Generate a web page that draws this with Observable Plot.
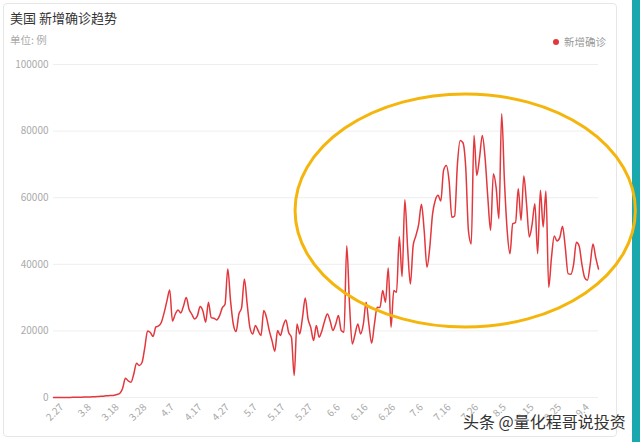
<!DOCTYPE html>
<html><head><meta charset="utf-8">
<script src="https://cdn.jsdelivr.net/npm/d3@7"></script>
<script src="https://cdn.jsdelivr.net/npm/@observablehq/plot@0.6"></script>
<style>
body{margin:0;background:#fff;font-family:"Noto Sans CJK SC","Noto Sans",sans-serif;}
#wrap{position:relative;width:640px;height:442px;overflow:hidden;background:#fff;}
.card{position:absolute;left:3px;top:3px;width:612px;height:432px;border:1px solid #e6e6e6;border-radius:4px;}
.teal{position:absolute;left:632px;top:0;width:8px;height:442px;background:#18a8ae;}
.title{position:absolute;left:10px;top:8px;font-size:13px;color:#333;white-space:nowrap;}
.sub{position:absolute;left:10px;top:32px;font-size:10.5px;color:#aaa;white-space:nowrap;}
.legend{position:absolute;left:553px;top:34px;font-size:10.5px;color:#999;white-space:nowrap;display:flex;align-items:center;}
.legend i{display:inline-block;width:6px;height:6px;border-radius:50%;background:#e2373c;margin-right:5px;}
#chart{position:absolute;left:0;top:50px;}
.wm{position:absolute;left:463px;top:409px;font-size:16px;color:#333;white-space:nowrap;
  text-shadow:0 0 2px #fff,0 0 2px #fff,0 0 3px #fff;}
</style>
</head><body>
<div id="wrap">
  <div class="card"></div>
  <div class="teal"></div>
  <div class="title">美国 新增确诊趋势</div>
  <div class="sub">单位: 例</div>
  <div class="legend"><i></i>新增确诊</div>
  <div id="chart"></div>
  <div class="wm">头条 @量化程哥说投资</div>
</div>
<script>
const seriesName = "新增确诊";
const startDate = Date.UTC(2020, 1, 24);
const values = [
  0,10,10,20,20,30,30,40,60,80,
  100,120,150,180,200,250,300,350,400,500,
  550,600,700,900,1300,2800,5800,5000,4600,7000,
  10300,9600,10500,15000,20000,19500,18300,21200,21500,22600,
  25500,29000,32300,23000,25000,26300,25400,27500,30000,26500,
  25000,23600,24500,27300,26000,22600,28600,24000,23800,23300,
  24500,26900,28000,38600,29000,22000,19800,25000,27000,35600,
  28100,21000,19100,21600,20000,18600,26100,24000,20100,17000,
  13900,20100,18600,21500,23300,19500,18100,6600,22100,19100,
  24000,29900,23600,21000,17100,21600,18100,20000,23000,25100,
  23000,20100,22000,24600,20100,19600,45600,28000,16100,19000,
  22100,19100,22000,28600,22000,16300,22000,27100,27000,32100,
  28600,38900,21100,32100,31600,48300,36300,59400,45000,34100,
  45600,48600,52000,58000,50000,39100,45000,55000,59200,60700,
  59000,68200,69700,65000,54100,54500,70000,77200,76500,69200,
  50000,46100,78700,66700,72000,78700,72000,60000,50200,67200,
  63000,53700,85200,65000,50000,43200,52200,52500,62700,53200,
  66500,58000,48200,52000,58200,43200,62200,51200,62000,33100,
  42000,48500,47000,48000,51400,45000,37200,37000,40000,46600,
  45500,40000,36000,35200,40000,46100,42000,38600
];
const tickLabels = ["2.27","3.8","3.18","3.28","4.7","4.17","4.27","5.7","5.17","5.27","6.6","6.16","6.26","7.6","7.16","7.26","8.5","8.15","8.25","9.4"];
const yTicks = [0,20000,40000,60000,80000,100000];
// highlighted region (hand-drawn ellipse annotation), in data units
const highlight = {cx: 149, cy: 56000, rx: 61.5, ry: 35000};

const labels = values.map((_, i) => {
  const d = d3.utcDay.offset(new Date(startDate), i);
  return `${d.getUTCMonth() + 1}.${d.getUTCDate()}`;
});
const data = values.map((v, i) => ({i, v, label: labels[i]}));
const tickPos = tickLabels.map(l => labels.indexOf(l));

const ellipseMark = (index, scales) => {
  const g = d3.create("svg:g");
  const cx = scales.x(highlight.cx), cy = scales.y(highlight.cy);
  g.append("ellipse")
    .attr("cx", cx).attr("cy", cy)
    .attr("rx", scales.x(highlight.cx + highlight.rx) - cx)
    .attr("ry", scales.y(highlight.cy - highlight.ry) - cy)
    .attr("fill", "none").attr("stroke", "#f4b50c").attr("stroke-width", 3);
  return g.node();
};

const plot = Plot.plot({
  width: 640, height: 392,
  marginTop: 14, marginBottom: 45, marginLeft: 53, marginRight: 42,
  style: {fontFamily: '"Noto Sans CJK SC","Noto Sans",sans-serif', fontSize: "10px", color: "#aaa", background: "transparent", overflow: "visible"},
  x: {type: "linear", domain: [0, values.length - 1]},
  y: {domain: [0, 100000]},
  marks: [
    Plot.gridY(yTicks, {stroke: "#eeeeee", strokeOpacity: 1}),
    Plot.axisY({ticks: yTicks, tickSize: 0, tickPadding: 5, tickFormat: d => String(d), label: null}),
    Plot.axisX({ticks: tickPos, tickFormat: i => labels[i], tickRotate: -45, tickSize: 0, tickPadding: 8, label: null}),
    Plot.line(data, {x: "i", y: "v", stroke: "#e2373c", strokeWidth: 1.5, curve: "monotone-x"}),
    ellipseMark
  ]
});
document.getElementById("chart").appendChild(plot);
</script>
</body></html>
